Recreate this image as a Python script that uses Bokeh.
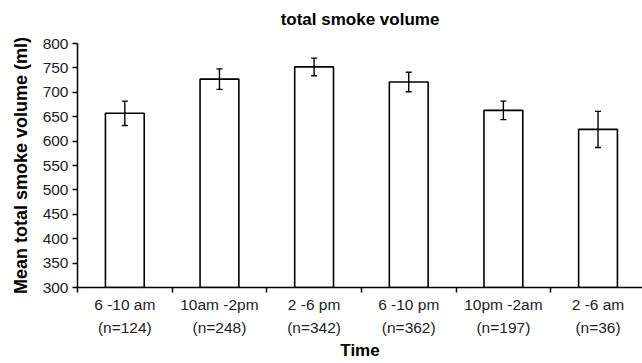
from bokeh.plotting import figure
from bokeh.models import Range1d, FixedTicker, Whisker, ColumnDataSource, TeeHead, LinearAxis
from bokeh.embed import file_html
from bokeh.resources import INLINE

title_text = "total smoke volume"
categories = ["6 -10 am", "10am -2pm", "2 -6 pm", "6 -10 pm", "10pm -2am", "2 -6 am"]
counts = ["(n=124)", "(n=248)", "(n=342)", "(n=362)", "(n=197)", "(n=36)"]
means = [657, 727, 752, 721, 663, 624]
errors = [25, 21, 18, 20, 19, 37]
y_ticks = [300, 350, 400, 450, 500, 550, 600, 650, 700, 750, 800]

xs = [i + 0.5 for i in range(len(categories))]
src = ColumnDataSource(dict(
    x=xs, top=means,
    upper=[m + e for m, e in zip(means, errors)],
    lower=[m - e for m, e in zip(means, errors)],
))

FONT = "Liberation Sans"

p = figure(width=642, height=363, output_backend="svg", toolbar_location=None,
           x_range=Range1d(0, 5.97), y_range=Range1d(300, 800),
           min_border_left=77, min_border_top=43, min_border_bottom=76, min_border_right=0)
p.outline_line_color = None
p.xgrid.visible = False
p.ygrid.visible = False
p.background_fill_color = "white"
p.border_fill_color = "white"

# bottom x axis (grab it before any other axis is added)
xa = p.below[0]
xa.ticker = FixedTicker(ticks=xs, minor_ticks=list(range(0, 7)))
xa.major_label_overrides = {x: f"{c}\n{n}" for x, c, n in zip(xs, categories, counts)}
xa.major_tick_line_color = None
xa.minor_tick_line_color = "black"
xa.minor_tick_out = 5
xa.minor_tick_in = 0
xa.minor_tick_line_width = 1.5
xa.axis_line_color = "black"
xa.axis_line_width = 1.5
xa.major_label_text_font = FONT
xa.major_label_text_font_size = "15.5px"
xa.major_label_text_line_height = 1.4
xa.major_label_text_color = "#222222"
xa.major_label_standoff = 2
xa.axis_label = "Time"
xa.axis_label_text_font = FONT
xa.axis_label_text_font_size = "17px"
xa.axis_label_text_font_style = "bold"
xa.axis_label_text_color = "black"
xa.axis_label_text_line_height = 1.0
xa.axis_label_standoff = 2

# y axis
ya = p.left[0]
ya.ticker = FixedTicker(ticks=y_ticks)
ya.minor_tick_line_color = None
ya.major_tick_out = 5
ya.major_tick_in = 0
ya.major_tick_line_color = "black"
ya.major_tick_line_width = 1.5
ya.axis_line_color = "black"
ya.axis_line_width = 1.5
ya.major_label_text_font = FONT
ya.major_label_text_font_size = "15.5px"
ya.major_label_text_color = "#222222"
ya.major_label_standoff = 4
ya.axis_label = "Mean total smoke volume (ml)"
ya.axis_label_text_font = FONT
ya.axis_label_text_font_size = "18px"
ya.axis_label_text_font_style = "bold"
ya.axis_label_text_color = "black"
ya.axis_label_standoff = 9

# title as the label of an empty top axis (precise vertical placement)
top_axis = LinearAxis(ticker=FixedTicker(ticks=[]), axis_label=title_text,
                      axis_line_color=None, major_tick_line_color=None,
                      minor_tick_line_color=None,
                      axis_label_text_font=FONT, axis_label_text_font_size="17px",
                      axis_label_text_font_style="bold", axis_label_text_color="black",
                      axis_label_standoff=15)
p.add_layout(top_axis, "above")

p.vbar(x="x", top="top", bottom=300, width=0.41, source=src,
       fill_color="white", line_color="black", line_width=1.6)

w = Whisker(base="x", upper="upper", lower="lower", source=src,
            line_color="black", line_width=1.4, level="overlay")
w.upper_head = TeeHead(size=6, line_color="black", line_width=1.4)
w.lower_head = TeeHead(size=6, line_color="black", line_width=1.4)
p.add_layout(w)

open("out.html", "w").write(file_html(p, INLINE))
